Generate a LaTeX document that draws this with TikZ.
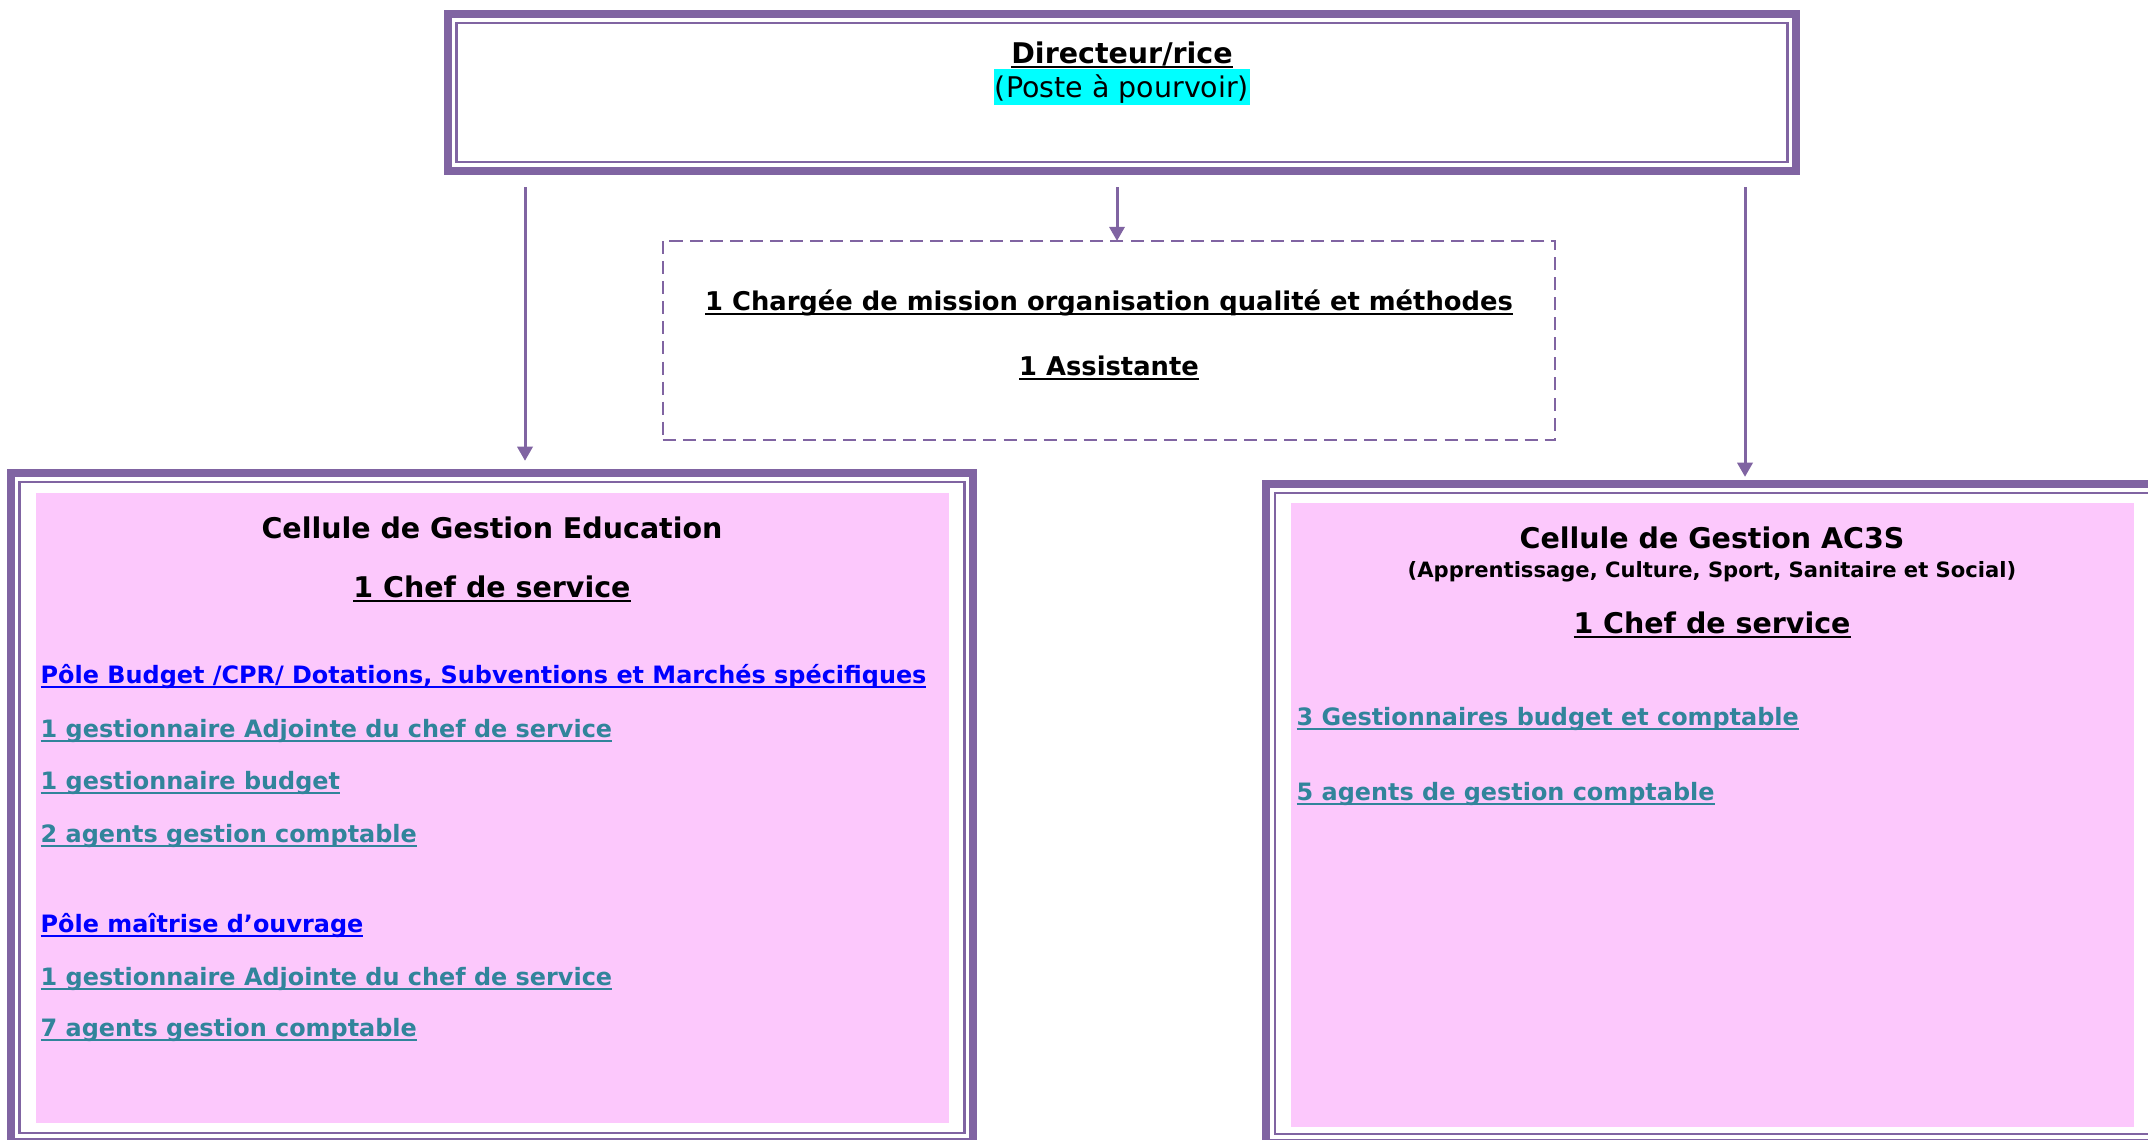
\documentclass[tikz,border=0pt]{standalone}
\usepackage{fontspec}
\setmainfont{DejaVu Sans}
\usetikzlibrary{arrows.meta}
\definecolor{violetcadre}{RGB}{128,100,162}
\definecolor{rosecellule}{RGB}{252,200,252}
\definecolor{bleupole}{RGB}{0,0,255}
\definecolor{sarcelle}{RGB}{49,132,155}
\definecolor{surligne}{RGB}{0,255,255}
\newcommand{\grand}{\fontsize{8.1}{9.7}\selectfont}
\newcommand{\mission}{\fontsize{7.33}{8.8}\selectfont}
\newcommand{\moyen}{\fontsize{6.8}{8.2}\selectfont}
\newcommand{\petit}{\fontsize{6}{7.2}\selectfont}
\newsavebox{\boitesoul}
\newcommand{\souligne}[1]{\sbox{\boitesoul}{#1}\rlap{\vrule height -0.9pt depth 1.45pt width \wd\boitesoul}\usebox{\boitesoul}}

\begin{document}
\begin{tikzpicture}[x=0.01cm, y=-0.01cm, >={Triangle[width=4.3pt,length=4pt]},
  cadre/.style={draw=violetcadre, line width=2.3pt, outer sep=0pt, inner sep=0pt},
  filet/.style={draw=violetcadre, line width=0.7pt},
  pointille/.style={draw=violetcadre, line width=0.6pt, dash pattern=on 3.7pt off 2pt, outer sep=0pt, inner sep=0pt},
  fleche/.style={->, draw=violetcadre, fill=violetcadre, line width=0.85pt},
  titre/.style={anchor=base, font=\grand\bfseries, inner sep=0pt},
  ligne/.style={anchor=base west, font=\moyen\bfseries, inner sep=0pt}]
\useasboundingbox (0,0) rectangle (2148,1139);
\clip (0,0) rectangle (2148,1139);

% cadres
\node[cadre, minimum width=13.48cm, minimum height=1.57cm] (dir) at (1122,92.5) {};
\node[pointille, minimum width=8.92cm, minimum height=1.99cm] (mission) at (1109,340.5) {};
\node[cadre, minimum width=9.62cm, minimum height=6.69cm] (edu) at (492,807.5) {};
\node[cadre, minimum width=8.93cm, minimum height=6.59cm] (ac) at (1712.5,813.5) {};
\foreach \b in {dir,edu,ac}{
\draw[filet] ([shift={(9,9)}]\b.north west) rectangle ([shift={(-9,-9)}]\b.south east);
}
\fill[rosecellule] (36,493) rectangle (949,1123);
\fill[rosecellule] (1291,503) rectangle (2134,1127);

% direction
\node[titre] (dirnom) at (1122,63) {\souligne{Directeur/rice}};
\node[anchor=base, fill=surligne, inner xsep=0.3pt, inner ysep=0pt, text height=8pt, text depth=2.3pt, font=\grand] (poste) at (1122,97) {(Poste à pourvoir)};
\node[titre, font=\mission\bfseries] (charge) at (1109,310) {\souligne{1 Chargée de mission organisation qualité et méthodes}};
\node[titre, font=\mission\bfseries] (assist) at (1109,375) {\souligne{1 Assistante}};

% fleches
\coordinate (xg) at (525,0);
\coordinate (xm) at (1117,0);
\coordinate (xd) at (1745,0);
\draw[fleche, shorten <=0.16cm, shorten >=0.12cm] (dir.south -| xg) -- (edu.north -| xg);
\draw[fleche, shorten <=0.16cm] (dir.south -| xm) -- (mission.north -| xm);
\draw[fleche, shorten <=0.16cm, shorten >=0.07cm] (dir.south -| xd) -- (ac.north -| xd);

% cellule education
\node[titre] (edunom) at (492,538) {Cellule de Gestion Education};
\node[titre] (educhef) at (492,597) {\souligne{1 Chef de service}};
\node[ligne, text=bleupole] (pole1) at (40,683) {\souligne{Pôle Budget /CPR/ Dotations, Subventions et Marchés spécifiques}};
\foreach \poste/\yy [count=\i] in {{1 gestionnaire Adjointe du chef de service}/737, {1 gestionnaire budget}/789, {2 agents gestion comptable}/842}{
\node[ligne, text=sarcelle] (budg\i) at (40,\yy) {\souligne{\poste}};
}
\node[ligne, text=bleupole] (pole2) at (40,932) {\souligne{Pôle maîtrise d’ouvrage}};
\foreach \poste/\yy [count=\i] in {{1 gestionnaire Adjointe du chef de service}/985, {7 agents gestion comptable}/1036}{
\node[ligne, text=sarcelle] (moa\i) at (40,\yy) {\souligne{\poste}};
}

% cellule AC3S
\node[titre] (acnom) at (1712,548) {Cellule de Gestion AC3S};
\node[titre, font=\petit\bfseries] (acsous) at (1712,577) {(Apprentissage, Culture, Sport, Sanitaire et Social)};
\node[titre] (acchef) at (1712,633) {\souligne{1 Chef de service}};
\foreach \poste/\yy [count=\i] in {{3 Gestionnaires budget et comptable}/725, {5 agents de gestion comptable}/800}{
\node[ligne, text=sarcelle] (acp\i) at (1296,\yy) {\souligne{\poste}};
}
\end{tikzpicture}
\end{document}
